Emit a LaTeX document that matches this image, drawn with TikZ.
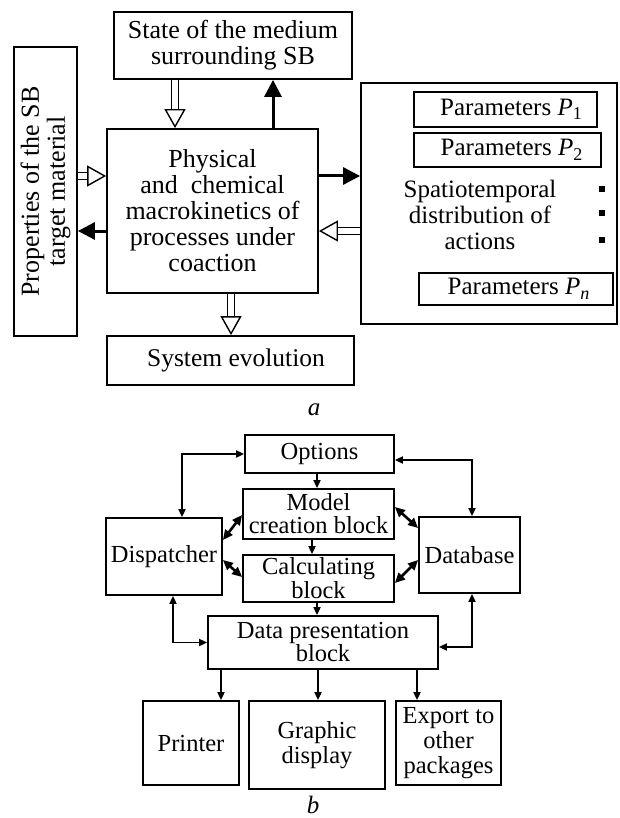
\documentclass[tikz,border=0pt]{standalone}
\usepackage{fontspec}
\setmainfont{Liberation Serif}
\usetikzlibrary{arrows.meta}
\newcommand\Pmy[1]{\textit{P}\raisebox{-0.4ex}{\fontsize{18}{18}\selectfont #1}}
\begin{document}
\begin{tikzpicture}[x=1pt,y=-1pt,
  box/.style={draw, line width=1.8pt, inner sep=0pt, align=center, font=\fontsize{24.5}{25}\selectfont},
  boxa/.style={box, font=\fontsize{26}{26}\selectfont},
  hollow/.style={double, double distance=5.5pt, line width=1.4pt,
    -{Triangle[open, fill=white, length=19pt, width=21pt, line width=1.4pt]}},
  solid/.style={line width=3pt, -{Triangle[length=17pt, width=17pt]}},
  barrow/.style={line width=1.8pt, {Triangle[length=8pt,width=7pt]}-{Triangle[length=8pt,width=7pt]}},
  sarrow/.style={line width=1.8pt, -{Triangle[length=8pt,width=7pt]}},
  darrow/.style={line width=2.6pt, {Triangle[length=10pt,width=9pt]}-{Triangle[length=10pt,width=9pt]}},
  lbl/.style={font=\fontsize{25}{26}\selectfont\itshape}
]
\useasboundingbox (0,0) rectangle (619,818);

% ---------- part a ----------
\node[boxa, minimum width=238, minimum height=67] (state) at (233,45.5)
  {State of the medium\\ surrounding SB};
\node[boxa, minimum width=289, minimum height=63, rotate=90] (prop) at (45.5,191.5)
  {Properties of the SB\\ target material};
\node[boxa, minimum width=211, minimum height=164] (main) at (212.5,211)
  {Physical\\ and\ \ chemical\\ macrokinetics of\\ processes under\\ coaction};
\node[boxa, minimum width=247, minimum height=49, font=\fontsize{25.5}{26}\selectfont] (evol) at (230.5,360.5)
  {\hspace{11pt}System evolution};
\node[boxa, minimum width=256, minimum height=241] (right) at (489,203.5) {};
\node[boxa, minimum width=183, minimum height=35, font=\fontsize{25}{26}\selectfont] (p1) at (505.5,109.5) {\hspace{11pt}Parameters \Pmy{1}};
\node[boxa, minimum width=187, minimum height=34, font=\fontsize{25}{26}\selectfont] (p2) at (507.5,150) {\hspace{8pt}Parameters \Pmy{2}};
\node[boxa, minimum width=194, minimum height=32, font=\fontsize{25}{26}\selectfont] (pn) at (516,289) {\hspace{5pt}Parameters \Pmy{\textit{n}}};
\node[align=center, inner sep=0pt, font=\fontsize{25}{26}\selectfont] (spat) at (480,215)
  {Spatiotemporal\\ distribution of\\ actions};
\node[fill, minimum size=5.5pt, inner sep=0pt] (d1) at (602,189) {};
\node[fill, minimum size=5.5pt, inner sep=0pt] (d2) at (602,213) {};
\node[fill, minimum size=5.5pt, inner sep=0pt] (d3) at (602,240) {};
\node[lbl] (la) at (314,410) {a};

\coordinate (ca1) at (175,0);
\coordinate (ca2) at (273,0);
\coordinate (ca3) at (0,176);
\coordinate (ca4) at (0,231);
\coordinate (ca5) at (231,0);
\draw[hollow] (state.south -| ca1) -- (main.north -| ca1);
\draw[solid] (main.north -| ca2) -- (state.south -| ca2);
\draw[hollow] (prop.south |- ca3) -- (main.west |- ca3);
\draw[solid] (main.west |- ca4) -- (prop.south |- ca4);
\draw[solid] (main.east |- ca3) -- (right.west |- ca3);
\draw[hollow] (right.west |- ca4) -- (main.east |- ca4);
\draw[hollow] (main.south -| ca5) -- (evol.north -| ca5);

% ---------- part b ----------
\node[box, minimum width=149, minimum height=38] (opt) at (319.5,454) {Options};
\node[box, minimum width=151, minimum height=50] (model) at (318.5,514) {Model\\[-2pt] creation block};
\node[box, minimum width=151, minimum height=47] (calc) at (318.5,578.5) {Calculating\\[-1pt] block};
\node[box, minimum width=116, minimum height=77] (disp) at (164,556.5) {Dispatcher};
\node[box, minimum width=101, minimum height=76] (db) at (469.5,555) {Database};
\node[box, minimum width=230, minimum height=53] (dp) at (323,642.5) {Data presentation\\[-2pt] block};
\node[box, minimum width=96, minimum height=84] (pr) at (191,743) {Printer};
\node[box, minimum width=136, minimum height=88] (gd) at (317,745) {Graphic\\ display};
\node[box, minimum width=105, minimum height=84] (ex) at (448.5,743) {Export to\\ other\\ packages};
\node[lbl] (lb) at (313,805) {b};

\coordinate (cb1) at (317,0);
\coordinate (cb2) at (312,0);
\coordinate (cb3) at (182,0);
\coordinate (cb4) at (472,460);
\coordinate (cb5) at (173,0);
\coordinate (cb6) at (472,647);
\coordinate (cb7) at (221,0);
\coordinate (cb8) at (318,0);
\coordinate (cb9) at (417,0);
\draw[sarrow] (opt.south -| cb1) -- (model.north -| cb1);
\draw[sarrow] (model.south -| cb2) -- (calc.north -| cb2);
\draw[sarrow] (calc.south -| cb1) -- (dp.north -| cb1);
\draw[barrow] (disp.north -| cb3) |- (opt.west);
\draw[barrow] (opt.east |- cb4) -| (db.north -| cb4);
\draw[barrow] (disp.south -| cb5) |- (dp.west);
\draw[barrow] (db.south -| cb6) |- (dp.east |- cb6);
\draw[sarrow] (dp.south -| cb7) -- (pr.north -| cb7);
\draw[sarrow] (dp.south -| cb8) -- (gd.north -| cb8);
\draw[sarrow] (dp.south -| cb9) -- (ex.north -| cb9);

\coordinate (e1) at (0,540);
\coordinate (e2) at (0,515);
\coordinate (e3) at (0,560);
\coordinate (e4) at (0,577);
\coordinate (e5) at (0,507);
\coordinate (e6) at (0,528);
\coordinate (e7) at (0,583);
\coordinate (e8) at (0,560);
\draw[darrow] (disp.east |- e1) -- (model.west |- e2);
\draw[darrow] (disp.east |- e3) -- (calc.west |- e4);
\draw[darrow] (model.east |- e5) -- (db.west |- e6);
\draw[darrow] (calc.east |- e7) -- (db.west |- e8);
\end{tikzpicture}
\end{document}
